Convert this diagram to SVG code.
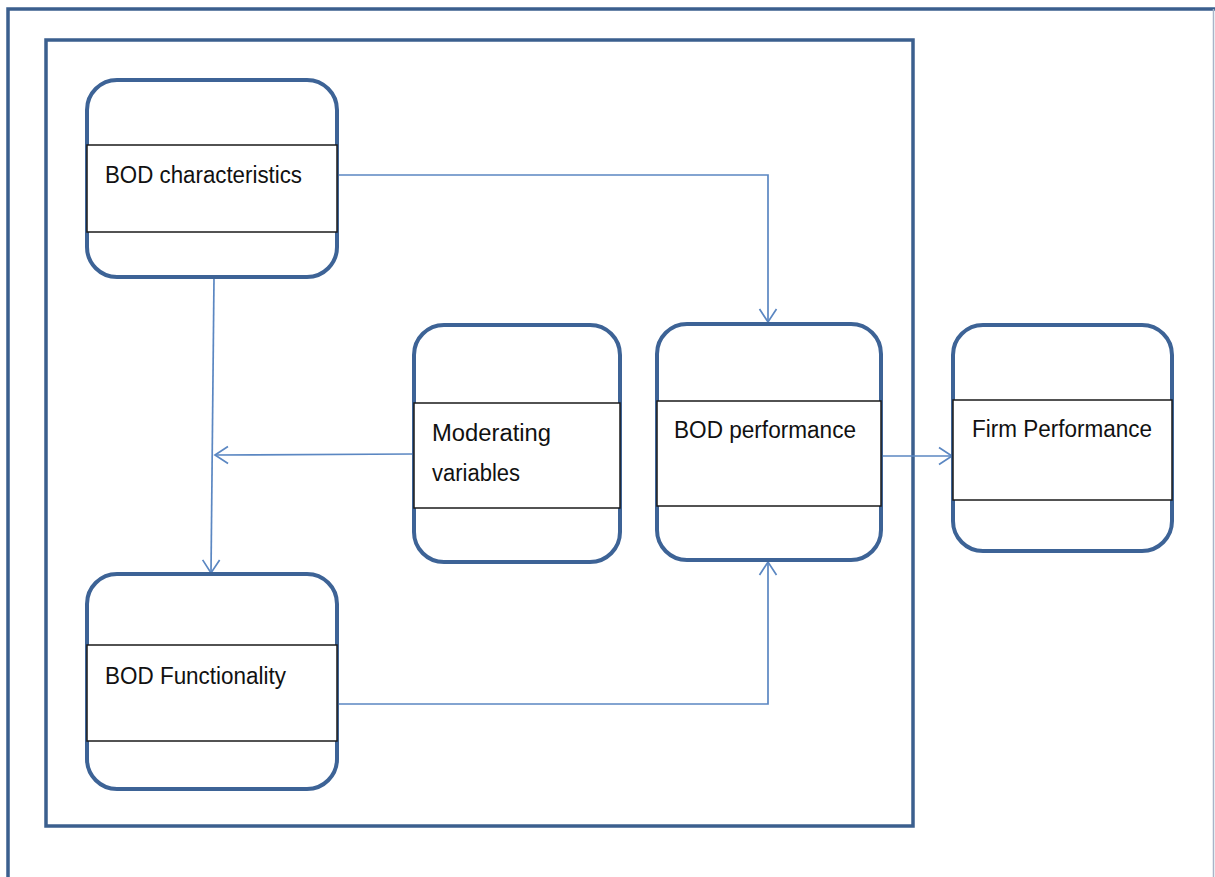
<svg xmlns="http://www.w3.org/2000/svg" width="1215" height="877" viewBox="0 0 1215 877">
<style>
.frame{fill:none;stroke:#3B5F8E;stroke-width:3.5}
.node{fill:#fff;stroke:#3D6396;stroke-width:4}
.band{fill:#fff;stroke:#1a1a1a;stroke-width:1.5}
.lbl{font-family:"Liberation Sans",Arial,sans-serif;font-size:22px;fill:#111}
.conn{fill:none;stroke:#5B87C2;stroke-width:1.7}
</style>
<defs>
<marker id="arr" viewBox="-15 -10 17 20" refX="0" refY="0" markerWidth="17" markerHeight="20" markerUnits="userSpaceOnUse" orient="auto">
<path d="M-13,-8.5 L0,0 L-13,8.5" fill="none" stroke="#5B87C2" stroke-width="1.7"/>
</marker>
</defs>
<rect width="1215" height="877" fill="#fff"/>
<g id="outer-frame">
<path d="M8,877 L8,9 L1215,9" class="frame" stroke-width="3"/>
<line x1="1213.5" y1="9" x2="1213.5" y2="877" stroke="#A8B4C8" stroke-width="1.5"/>
</g>
<g id="inner-frame">
<rect x="46" y="40" width="867" height="786" class="frame" stroke-width="4"/>
</g>
<g id="connectors">
<polyline class="conn" points="338,175 768,175 768,322" marker-end="url(#arr)"/>
<line class="conn" x1="214" y1="278" x2="211" y2="573" marker-end="url(#arr)"/>
<line class="conn" x1="413" y1="454" x2="215" y2="455" marker-end="url(#arr)"/>
<polyline class="conn" points="338,704 768,704 768,562" marker-end="url(#arr)"/>
<line class="conn" x1="882" y1="456" x2="952" y2="456" marker-end="url(#arr)"/>
</g>
<g id="bod-characteristics">
<rect x="87" y="80" width="250" height="197" rx="30" class="node"/>
<rect x="87" y="145" width="250" height="87" class="band"/>
<text transform="translate(105,183) scale(1,1.12)" class="lbl" textLength="197" lengthAdjust="spacingAndGlyphs">BOD characteristics</text>
</g>
<g id="moderating-variables">
<rect x="414" y="325" width="206" height="237" rx="30" class="node"/>
<rect x="414" y="403" width="206" height="105" class="band"/>
<text transform="translate(432,441) scale(1,1.12)" class="lbl" textLength="119" lengthAdjust="spacingAndGlyphs">Moderating</text>
<text transform="translate(432,481) scale(1,1.12)" class="lbl" textLength="88" lengthAdjust="spacingAndGlyphs">variables</text>
</g>
<g id="bod-performance">
<rect x="657" y="324" width="224" height="236" rx="30" class="node"/>
<rect x="657" y="401" width="224" height="105" class="band"/>
<text transform="translate(674,438) scale(1,1.12)" class="lbl" textLength="182" lengthAdjust="spacingAndGlyphs">BOD performance</text>
</g>
<g id="firm-performance">
<rect x="953" y="325" width="219" height="226" rx="30" class="node"/>
<rect x="953" y="400" width="219" height="100" class="band"/>
<text transform="translate(972,437) scale(1,1.12)" class="lbl" textLength="180" lengthAdjust="spacingAndGlyphs">Firm Performance</text>
</g>
<g id="bod-functionality">
<rect x="87" y="574" width="250" height="215" rx="30" class="node"/>
<rect x="87" y="645" width="250" height="96" class="band"/>
<text transform="translate(105,684) scale(1,1.12)" class="lbl" textLength="181" lengthAdjust="spacingAndGlyphs">BOD Functionality</text>
</g>
</svg>
